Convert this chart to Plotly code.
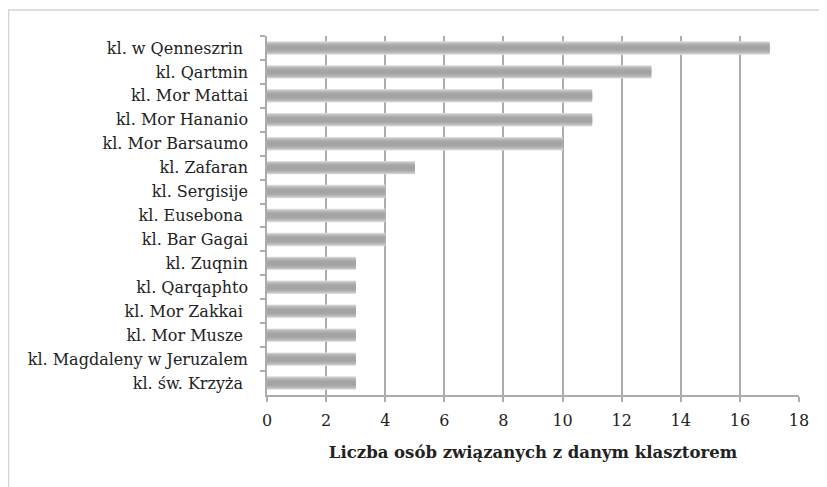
import plotly.graph_objects as go

categories = [
    "kl. w Qenneszrin\u00a0",
    "kl. Qartmin",
    "kl. Mor Mattai",
    "kl. Mor Hananio",
    "kl. Mor Barsaumo",
    "kl. Zafaran",
    "kl. Sergisije",
    "kl. Eusebona\u00a0",
    "kl. Bar Gagai",
    "kl. Zuqnin",
    "kl. Qarqaphto",
    "kl. Mor Zakkai\u00a0",
    "kl. Mor Musze\u00a0",
    "kl. Magdaleny w Jeruzalem",
    "kl. św. Krzyża\u00a0",
]
values = [17, 13, 11, 11, 10, 5, 4, 4, 4, 3, 3, 3, 3, 3, 3]
x_ticks = [0, 2, 4, 6, 8, 10, 12, 14, 16, 18]
x_title = "Liczba osób związanych z danym klasztorem"

# layered bars to imitate the cylindrical grey gradient
layers = [
    (0.56, "#e4e4e4"),
    (0.52, "#d4d4d4"),
    (0.48, "#c8c8c8"),
    (0.42, "#bdbdbd"),
    (0.36, "#b3b3b3"),
    (0.28, "#ababab"),
    (0.18, "#a4a4a4"),
]

fig = go.Figure()
for w, c in layers:
    fig.add_trace(go.Bar(
        y=categories, x=values, orientation="h",
        width=w, marker=dict(color=c, line=dict(width=0)),
        showlegend=False, hoverinfo="x+y",
    ))

font_family = "DejaVu Serif"
grey = "#acacac"
text_col = "#222222"

L, R, T, B = 259, 28, 28, 92
W, H = 819, 479
plot_w = W - L - R
plot_h = H - T - B

fig.update_layout(
    width=W, height=H,
    margin=dict(l=L, r=R, t=T, b=B),
    paper_bgcolor="white", plot_bgcolor="white",
    barmode="overlay",
    font=dict(family=font_family, size=16, color=text_col),
    xaxis=dict(
        range=[0, 18], tickvals=x_ticks, ticktext=[str(t) for t in x_ticks],
        showgrid=True, gridcolor=grey, gridwidth=1.5,
        showline=True, linecolor=grey, linewidth=1.5,
        ticks="outside", ticklen=5, tickcolor=grey, tickwidth=1.5,
        zeroline=False, automargin=False,
        ticklabelstandoff=5,
        tickfont=dict(family=font_family, size=16, color=text_col),
        title=dict(text="<b>" + x_title + "</b>",
                   font=dict(family=font_family, size=16.5, color=text_col),
                   standoff=17),
    ),
    yaxis=dict(
        categoryorder="array", categoryarray=categories,
        autorange="reversed",
        showgrid=False, automargin=False,
        showline=True, linecolor=grey, linewidth=1.5,
        ticks="outside", ticklen=5, tickcolor=grey, tickwidth=1.5,
        tickson="boundaries",
        tickfont=dict(family=font_family, size=16, color=text_col),
        ticklabelstandoff=14,
    ),
)

# outer frame (top and left edges visible)
fig.add_shape(type="rect", xref="paper", yref="paper",
              x0=(0.5 - L) / plot_w, x1=1.2, y0=-0.4, y1=1 + (T - 2) / plot_h,
              line=dict(color="#d4d4d4", width=1.5), layer="below")

fig.write_html("out.html")
